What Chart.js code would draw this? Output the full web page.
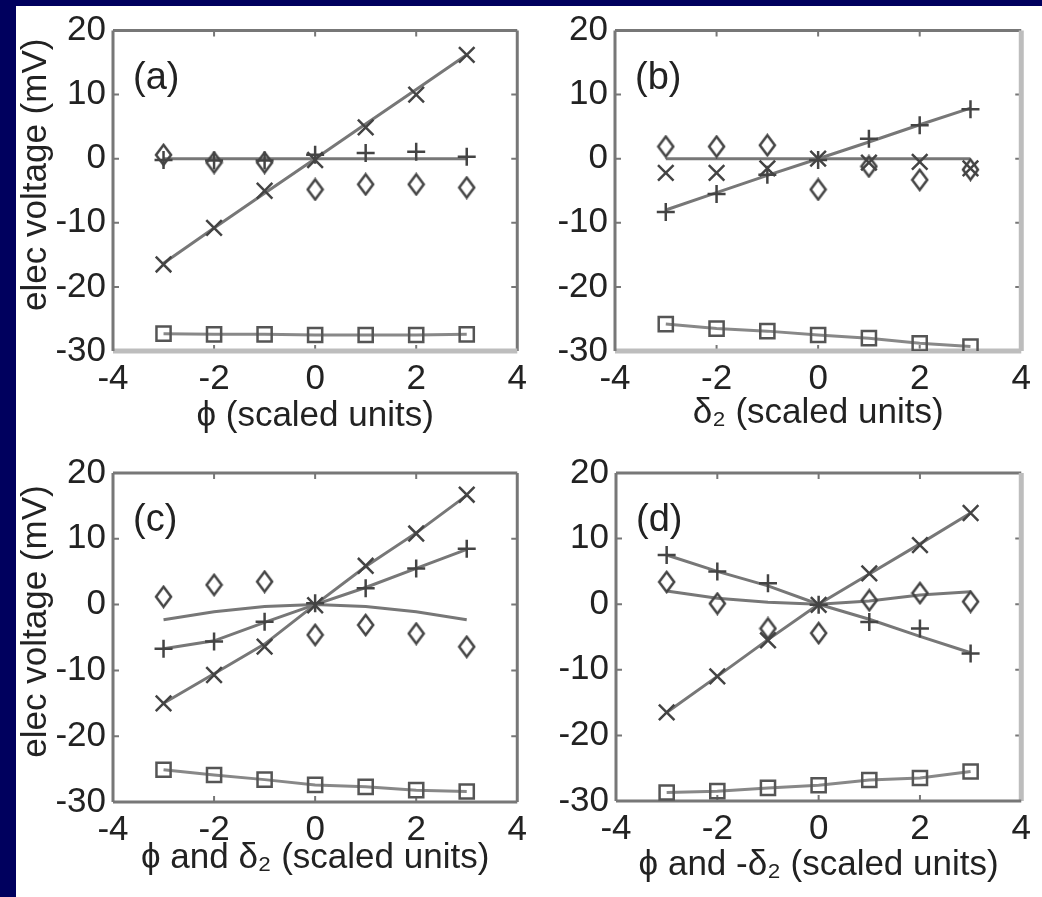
<!DOCTYPE html>
<html>
<head>
<meta charset="utf-8">
<title>elec voltage vs scaled units</title>
<script src="https://cdn.jsdelivr.net/npm/chart.js@4.4.1/dist/chart.umd.min.js"></script>
<style>
  html, body { margin: 0; padding: 0; }
  body { width: 1042px; height: 897px; background: #00005e; position: relative; overflow: hidden; }
  #sheet { position: absolute; left: 16px; top: 6px; right: 0; bottom: 0; background: #fff; }
  .panel { position: absolute; }
</style>
</head>
<body>
<div id="sheet"></div>
<div class="panel" style="left:16px; top:6px; width:522px; height:440px"><canvas id="chartA"></canvas></div>
<div class="panel" style="left:531px; top:6px; width:511px; height:440px"><canvas id="chartB"></canvas></div>
<div class="panel" style="left:16px; top:446px; width:522px; height:451px"><canvas id="chartC"></canvas></div>
<div class="panel" style="left:531px; top:446px; width:511px; height:451px"><canvas id="chartD"></canvas></div>
<script>
// x positions (scaled units) and axis ticks
const xs = [-3, -2, -1, 0, 1, 2, 3];
const xTickVals = [-4, -2, 0, 2, 4];
const yTickVals = [-30, -20, -10, 0, 10, 20];

// (a) phi
const aPlus     = [-0.2, -0.3, -0.3, 0.6, 0.9, 1.1, 0.3];
const aPlusFit  = [0, 0, 0, 0, 0, 0, 0];
const aCross    = [-16.5, -10.8, -5.0, -0.2, 4.9, 10.0, 16.2];
const aCrossFit = [-16.3, -10.8, -5.4, 0, 5.4, 10.8, 16.2];
const aDiam     = [0.6, -0.6, -0.6, -4.8, -4.0, -4.0, -4.5];
const aSquare   = [-27.3, -27.4, -27.4, -27.5, -27.5, -27.5, -27.4];

// (b) delta_2
const bPlus     = [-8.3, -5.5, -2.5, -0.2, 3.1, 5.2, 7.7];
const bPlusFit  = [-8.0, -5.3, -2.6, 0, 2.6, 5.3, 7.9];
const bCross    = [-2.2, -2.2, -1.5, 0, -0.6, -0.5, -1.5];
const bCrossFit = [0, 0, 0, 0, 0, 0, 0];
const bDiam     = [1.9, 1.9, 2.1, -4.8, -1.2, -3.3, -1.7];
const bSquare   = [-25.8, -26.5, -26.9, -27.5, -28.0, -28.8, -29.3];

// (c) phi and delta_2
const cPlus     = [-6.7, -5.6, -2.6, 0.2, 2.5, 5.5, 8.5];
const cPlusFit  = [-6.7, -5.5, -2.7, 0, 2.6, 5.5, 8.4];
const cCross    = [-15.0, -10.7, -6.4, -0.1, 5.9, 10.8, 16.7];
const cCrossFit = [-15.0, -10.5, -6.0, 0, 5.8, 10.9, 16.6];
const cDiam     = [1.2, 3.0, 3.5, -4.6, -3.1, -4.4, -6.4];
const cDiamFit  = [-2.3, -1.1, -0.3, 0, -0.3, -1.1, -2.3];
const cSquare   = [-25.1, -25.9, -26.6, -27.4, -27.7, -28.2, -28.4];

// (d) phi and -delta_2
const dPlus     = [7.5, 5.0, 3.2, -0.1, -2.7, -3.7, -7.5];
const dPlusFit  = [7.5, 5.0, 2.8, 0, -2.3, -4.9, -7.4];
const dCross    = [-16.5, -11.0, -5.5, -0.1, 4.7, 9.0, 13.9];
const dCrossFit = [-16.5, -11.0, -5.4, 0, 4.6, 9.2, 13.9];
const dDiam     = [3.4, 0.1, -3.7, -4.4, 0.6, 1.7, 0.4];
const dDiamFit  = [2.0, 0.9, 0.3, 0, 0.5, 1.4, 1.9];
const dSquare   = [-28.7, -28.5, -28.0, -27.6, -26.8, -26.5, -25.5];

Chart.defaults.font.family = '"Liberation Sans", Arial, sans-serif';
Chart.defaults.color = '#222';

const markColor = '#444';
const lineColor = '#777';

// tall diamond marker, like the scanned one
function diamondMark(w, h) {
  const c = document.createElement('canvas');
  c.width = w + 4; c.height = h + 4;
  const g = c.getContext('2d');
  g.strokeStyle = markColor;
  g.lineWidth = 2.5;
  g.beginPath();
  g.moveTo(c.width / 2, 2);
  g.lineTo(c.width - 2, c.height / 2);
  g.lineTo(c.width / 2, c.height - 2);
  g.lineTo(2, c.height / 2);
  g.closePath();
  g.stroke();
  return c;
}
const diamond = diamondMark(15, 20);

const pts = vals => xs.map((x, i) => ({ x: x, y: vals[i] }));

function markers(vals, style, r) {
  return { data: pts(vals), showLine: false, pointStyle: style, pointRadius: r,
           borderColor: markColor, backgroundColor: 'rgba(0,0,0,0)', borderWidth: 2.5 };
}
function fitLine(vals) {
  return { data: pts(vals), showLine: true, pointRadius: 0, borderColor: lineColor, borderWidth: 3 };
}

function buildDatasets(s) {
  const list = [
    markers(s.plus, 'cross', 9),
    markers(s.cross, 'crossRot', 11),
    markers(s.diam, diamond, 10),
    { data: pts(s.square), showLine: true, pointStyle: 'rect', pointRadius: 10,
      pointBorderColor: '#555', pointBackgroundColor: 'rgba(0,0,0,0)', pointBorderWidth: 2.5,
      borderColor: '#888', borderWidth: 3 },
    fitLine(s.plusFit),
    fitLine(s.crossFit)
  ];
  if (s.diamFit) list.push(fitLine(s.diamFit));
  return list;
}

// box with inward ticks, panel letter and the y title
const framePlugin = {
  id: 'frame',
  beforeDatasetsDraw(chart, args, opts) {
    const { ctx, chartArea: a, scales: { x, y } } = chart;
    ctx.save();
    ctx.strokeStyle = lineColor;
    ctx.lineWidth = 2;
    ctx.beginPath();
    xTickVals.slice(1, -1).forEach(v => {
      const px = x.getPixelForValue(v);
      ctx.moveTo(px, a.top); ctx.lineTo(px, a.top + 6);
      ctx.moveTo(px, a.bottom); ctx.lineTo(px, a.bottom - 6);
    });
    yTickVals.slice(1, -1).forEach(v => {
      const py = y.getPixelForValue(v);
      ctx.moveTo(a.left, py); ctx.lineTo(a.left + 6, py);
      ctx.moveTo(a.right, py); ctx.lineTo(a.right - 6, py);
    });
    ctx.stroke();
    // sides: top, right, bottom, left
    const sides = [
      [a.left, a.top, a.right, a.top],
      [a.right, a.top, a.right, a.bottom],
      [a.left, a.bottom, a.right, a.bottom],
      [a.left, a.top, a.left, a.bottom]
    ];
    sides.forEach((sd, i) => {
      const light = opts.light.includes(i);
      ctx.strokeStyle = light ? '#bdbdbd' : lineColor;
      ctx.lineWidth = light ? 5 : 3;
      ctx.beginPath(); ctx.moveTo(sd[0], sd[1]); ctx.lineTo(sd[2], sd[3]); ctx.stroke();
    });
    ctx.restore();
  },
  afterDraw(chart, args, opts) {
    const { ctx, chartArea: a } = chart;
    ctx.save();
    ctx.fillStyle = '#222';
    ctx.font = '38px "Liberation Sans", Arial, sans-serif';
    ctx.textBaseline = 'middle';
    ctx.textAlign = 'left';
    ctx.fillText(opts.letter, a.left + 20, a.top + 48);
    if (opts.yTitle) {
      ctx.font = '35px "Liberation Sans", Arial, sans-serif';
      ctx.translate(a.left - 77, (a.top + a.bottom) / 2 - 16);
      ctx.rotate(-Math.PI / 2);
      ctx.textAlign = 'center';
      ctx.fillText(opts.yTitle, 0, 0);
    }
    ctx.restore();
  }
};

function makeChart(id, cfg) {
  return new Chart(document.getElementById(id), {
    type: 'scatter',
    data: { datasets: buildDatasets(cfg.series) },
    options: {
      responsive: true,
      maintainAspectRatio: false,
      animation: false,
      layout: { padding: { top: cfg.padTop, right: cfg.padRight, left: 0, bottom: 0 } },
      plugins: {
        legend: { display: false },
        tooltip: { enabled: false },
        frame: { letter: cfg.letter, yTitle: cfg.yTitle, light: cfg.light }
      },
      scales: {
        x: {
          type: 'linear', min: -4, max: 4,
          afterBuildTicks: s => { s.ticks = xTickVals.map(v => ({ value: v })); },
          afterFit: s => { s.height = cfg.xAxisH; },
          grid: { display: false, drawTicks: false },
          border: { display: false },
          ticks: { font: { size: 35, lineHeight: 1 }, padding: 11, maxRotation: 0, autoSkip: false, color: '#222' },
          title: { display: true, text: cfg.xTitle, color: '#222',
                   font: { size: 35, lineHeight: 1 }, padding: { top: 0, bottom: cfg.titlePad } }
        },
        y: {
          type: 'linear', min: -30, max: 20,
          afterBuildTicks: s => { s.ticks = yTickVals.map(v => ({ value: v })); },
          afterFit: s => { s.width = cfg.yAxisW; },
          grid: { display: false, drawTicks: false },
          border: { display: false },
          ticks: { font: { size: 35, lineHeight: 1 }, padding: 7, autoSkip: false, color: '#222' }
        }
      }
    },
    plugins: [framePlugin]
  });
}

makeChart('chartA', {
  series: { plus: aPlus, plusFit: aPlusFit, cross: aCross, crossFit: aCrossFit, diam: aDiam, square: aSquare },
  letter: '(a)', yTitle: 'elec voltage (mV)', xTitle: 'ϕ (scaled units)',
  padTop: 19, padRight: 12, yAxisW: 97, xAxisH: 95, titlePad: 12, light: [2]
});
makeChart('chartB', {
  series: { plus: bPlus, plusFit: bPlusFit, cross: bCross, crossFit: bCrossFit, diam: bDiam, square: bSquare },
  letter: '(b)', yTitle: null, xTitle: 'δ₂ (scaled units)',
  padTop: 19, padRight: 13, yAxisW: 84, xAxisH: 95, titlePad: 15, light: [1, 2]
});
makeChart('chartC', {
  series: { plus: cPlus, plusFit: cPlusFit, cross: cCross, crossFit: cCrossFit, diam: cDiam, diamFit: cDiamFit, square: cSquare },
  letter: '(c)', yTitle: 'elec voltage (mV)', xTitle: 'ϕ and δ₂ (scaled units)',
  padTop: 27, padRight: 12, yAxisW: 97, xAxisH: 95, titlePad: 21, light: []
});
makeChart('chartD', {
  series: { plus: dPlus, plusFit: dPlusFit, cross: dCross, crossFit: dCrossFit, diam: dDiam, diamFit: dDiamFit, square: dSquare },
  letter: '(d)', yTitle: null, xTitle: 'ϕ and -δ₂ (scaled units)',
  padTop: 27, padRight: 13, yAxisW: 85, xAxisH: 96, titlePad: 14, light: [1]
});
</script>
</body>
</html>
